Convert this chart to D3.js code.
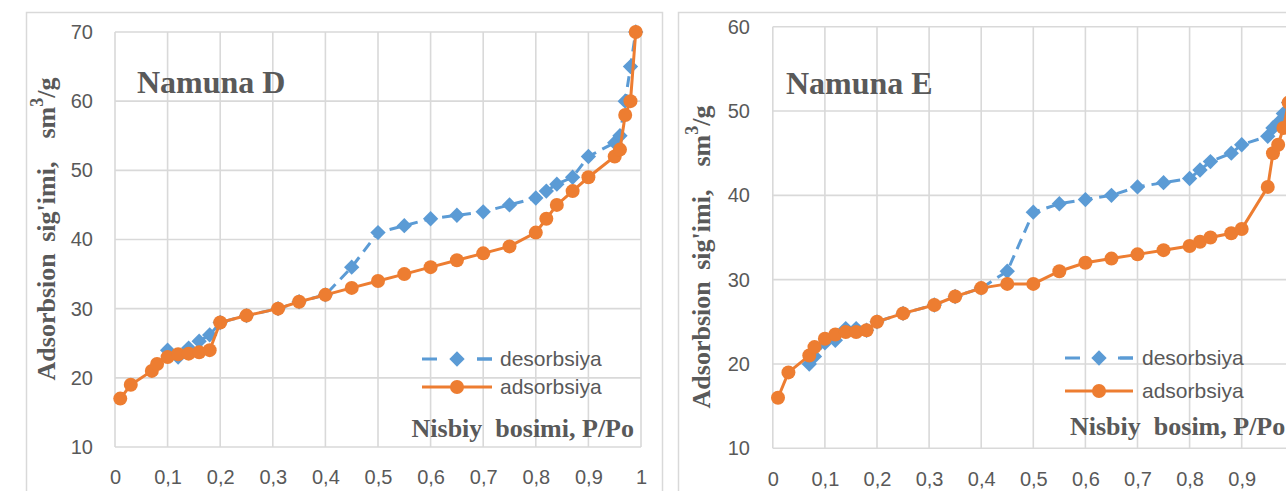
<!DOCTYPE html>
<html>
<head>
<meta charset="utf-8">
<script src="https://cdn.jsdelivr.net/npm/d3@7"></script>
<style>
  body { margin: 0; background: #fff; }
  svg { display: block; }
  text { white-space: pre; }
</style>
</head>
<body>
<svg id="chart" width="1286" height="491"></svg>
<script>
// ---- data ----
const xTickValues = [0, 0.1, 0.2, 0.3, 0.4, 0.5, 0.6, 0.7, 0.8, 0.9, 1];
const xTickLabels = ["0", "0,1", "0,2", "0,3", "0,4", "0,5", "0,6", "0,7", "0,8", "0,9", "1"];

// Namuna D
const pressureAdsD = [0.01, 0.03, 0.07, 0.08, 0.1, 0.12, 0.14, 0.16, 0.18, 0.2, 0.25, 0.31, 0.35, 0.4, 0.45, 0.5, 0.55, 0.6, 0.65, 0.7, 0.75, 0.8, 0.82, 0.84, 0.87, 0.9, 0.95, 0.96, 0.97, 0.98, 0.99];
const volumeAdsD   = [17, 19, 21, 22, 23, 23.4, 23.5, 23.7, 24, 28, 29, 30, 31, 32, 33, 34, 35, 36, 37, 38, 39, 41, 43, 45, 47, 49, 52, 53, 58, 60, 70];
const pressureDesD = [0.1, 0.12, 0.14, 0.16, 0.18, 0.2, 0.25, 0.31, 0.35, 0.4, 0.45, 0.5, 0.55, 0.6, 0.65, 0.7, 0.75, 0.8, 0.82, 0.84, 0.87, 0.9, 0.95, 0.96, 0.97, 0.98, 0.99];
const volumeDesD   = [24, 23, 24.3, 25.3, 26.2, 28, 29, 30, 31, 32, 36, 41, 42, 43, 43.5, 44, 45, 46, 47, 48, 49, 52, 54, 55, 60, 65, 70];

// Namuna E
const pressureAdsE = [0.01, 0.03, 0.07, 0.08, 0.1, 0.12, 0.14, 0.16, 0.18, 0.2, 0.25, 0.31, 0.35, 0.4, 0.45, 0.5, 0.55, 0.6, 0.65, 0.7, 0.75, 0.8, 0.82, 0.84, 0.88, 0.9, 0.95, 0.96, 0.97, 0.98, 0.99];
const volumeAdsE   = [16, 19, 21, 22, 23, 23.5, 23.8, 23.8, 24, 25, 26, 27, 28, 29, 29.5, 29.5, 31, 32, 32.5, 33, 33.5, 34, 34.5, 35, 35.5, 36, 41, 45, 46, 48, 51];
const pressureDesE = [0.07, 0.08, 0.1, 0.12, 0.14, 0.16, 0.18, 0.2, 0.25, 0.31, 0.35, 0.4, 0.45, 0.5, 0.55, 0.6, 0.65, 0.7, 0.75, 0.8, 0.82, 0.84, 0.88, 0.9, 0.95, 0.96, 0.97, 0.98, 0.99];
const volumeDesE   = [20, 20.9, 22.5, 22.8, 24.2, 24.2, 24, 25, 26, 27, 28, 29, 31, 38, 39, 39.5, 40, 41, 41.5, 42, 43, 44, 45, 46, 47, 48, 48.6, 49.7, 51];

const seriesNames = ["desorbsiya", "adsorbsiya"];

const blue = "#5B9BD5";
const orange = "#ED7D31";
const gridColour = "#D9D9D9";
const textColour = "#595959";
const sansFont = "'Liberation Sans', Arial, sans-serif";
const serifFont = "'Liberation Serif', 'Times New Roman', serif";

const svgWidth = 1286;
const svg = d3.select("#chart");

const panels = [
    {
        frame: [26.5, 12.5, 636, 500],
        xRange: [115, 641], yRange: [447, 32], yDomain: [10, 70], yTicks: [10, 20, 30, 40, 50, 60, 70],
        yLabelX: 93, title: "Namuna D", titlePos: [137, 93],
        yTitlePos: [49, 229], xTitle: "Nisbiy  bosimi, P/Po", xTitlePos: [634, 437], xTitleAnchor: "end",
        legend: { x1: 422, x2: 492, textX: 500, rows: [359, 387] },
        des: [pressureDesD, volumeDesD], ads: [pressureAdsD, volumeAdsD]
    },
    {
        frame: [678.5, 12.5, 700, 500],
        xRange: [772.8, 1293.8], yRange: [448.3, 26.7], yDomain: [10, 60], yTicks: [10, 20, 30, 40, 50, 60],
        yLabelX: 750, title: "Namuna E", titlePos: [786, 94],
        yTitlePos: [704, 257], xTitle: "Nisbiy  bosim, P/Po", xTitlePos: [1070, 435], xTitleAnchor: "start",
        legend: { x1: 1065, x2: 1133, textX: 1142, rows: [358, 391] },
        des: [pressureDesE, volumeDesE], ads: [pressureAdsE, volumeAdsE]
    }
];

panels.forEach(drawPanel);

function drawPanel(p) {
    const g = svg.append("g");

    // outer chart frame
    g.append("rect")
        .attr("x", p.frame[0]).attr("y", p.frame[1])
        .attr("width", p.frame[2]).attr("height", p.frame[3])
        .attr("fill", "#fff").attr("stroke", gridColour).attr("stroke-width", 1.5);

    const x = d3.scaleLinear().domain([0, 1]).range(p.xRange);
    const y = d3.scaleLinear().domain(p.yDomain).range(p.yRange);

    // grid
    g.append("g").selectAll("line.v")
        .data(xTickValues)
        .join("line")
        .attr("x1", d => x(d)).attr("x2", d => x(d))
        .attr("y1", y.range()[0]).attr("y2", y.range()[1])
        .attr("stroke", gridColour).attr("stroke-width", 1.6);
    g.append("g").selectAll("line.h")
        .data(p.yTicks)
        .join("line")
        .attr("x1", x.range()[0]).attr("x2", x.range()[1])
        .attr("y1", d => y(d)).attr("y2", d => y(d))
        .attr("stroke", gridColour).attr("stroke-width", 1.6);

    // axes (labels only, Excel style); labels past the window edge are left out
    const visibleTicks = xTickValues.filter(d => x(d) + 8 < svgWidth);
    const xAxis = g.append("g")
        .attr("transform", `translate(0,${y.range()[0] + 20})`)
        .call(d3.axisBottom(x).tickValues(visibleTicks)
            .tickFormat(d => xTickLabels[xTickValues.indexOf(d)]).tickSize(0));
    const yAxis = g.append("g")
        .attr("transform", `translate(${p.yLabelX},0)`)
        .call(d3.axisLeft(y).tickValues(p.yTicks).tickSize(0).tickPadding(0));
    [xAxis, yAxis].forEach(a => {
        a.select(".domain").remove();
        a.selectAll("text").attr("fill", textColour)
            .style("font-family", sansFont).style("font-size", "20px");
    });
    xAxis.selectAll("text").attr("dy", "0.71em");

    // series: desorption first, adsorption on top
    const line = d3.line().x(d => x(d[0])).y(d => y(d[1]));
    const des = d3.zip(p.des[0], p.des[1]);
    const ads = d3.zip(p.ads[0], p.ads[1]);

    g.append("path").datum(des)
        .attr("d", line).attr("fill", "none")
        .attr("stroke", blue).attr("stroke-width", 3).attr("stroke-dasharray", "11,7");
    g.append("g").selectAll("path")
        .data(des)
        .join("path")
        .attr("d", d3.symbol(d3.symbolDiamond2, 150))
        .attr("transform", d => `translate(${x(d[0])},${y(d[1])})`)
        .attr("fill", blue);

    g.append("path").datum(ads)
        .attr("d", line).attr("fill", "none")
        .attr("stroke", orange).attr("stroke-width", 3);
    g.append("g").selectAll("circle")
        .data(ads)
        .join("circle")
        .attr("cx", d => x(d[0])).attr("cy", d => y(d[1])).attr("r", 7)
        .attr("fill", orange);

    // titles
    g.append("text")
        .attr("x", p.titlePos[0]).attr("y", p.titlePos[1])
        .attr("fill", textColour)
        .style("font-family", serifFont).style("font-weight", "bold").style("font-size", "32px")
        .text(p.title);

    const yt = g.append("text")
        .attr("transform", `translate(${p.yTitlePos[0]},${p.yTitlePos[1]}) rotate(-90)`)
        .attr("text-anchor", "middle").attr("dominant-baseline", "middle")
        .attr("fill", textColour)
        .style("font-family", serifFont).style("font-weight", "bold").style("font-size", "26px")
        .style("word-spacing", "5px");
    yt.append("tspan").text("Adsorbsion sig'imi,  sm");
    yt.append("tspan").attr("dy", -10).style("font-size", "18px").text("3");
    yt.append("tspan").attr("dy", 10).text("/g");

    g.append("text")
        .attr("x", p.xTitlePos[0]).attr("y", p.xTitlePos[1])
        .attr("text-anchor", p.xTitleAnchor)
        .attr("fill", textColour)
        .style("font-family", serifFont).style("font-weight", "bold").style("font-size", "26px")
        .text(p.xTitle);

    // legend
    const lg = p.legend;
    const mid = (lg.x1 + lg.x2) / 2;
    lg.rows.forEach((ry, i) => {
        const colour = i === 0 ? blue : orange;
        g.append("line")
            .attr("x1", lg.x1).attr("x2", lg.x2).attr("y1", ry).attr("y2", ry)
            .attr("stroke", colour).attr("stroke-width", 3)
            .attr("stroke-dasharray", i === 0 ? "15,40" : null);
        if (i === 0) {
            g.append("line")
                .attr("x1", lg.x2 - 15).attr("x2", lg.x2).attr("y1", ry).attr("y2", ry)
                .attr("stroke", colour).attr("stroke-width", 3);
            g.append("path").attr("d", d3.symbol(d3.symbolDiamond2, 150))
                .attr("transform", `translate(${mid},${ry})`).attr("fill", colour);
        } else {
            g.append("circle").attr("cx", mid).attr("cy", ry).attr("r", 7).attr("fill", colour);
        }
        g.append("text")
            .attr("x", lg.textX).attr("y", ry).attr("dy", "0.35em")
            .attr("fill", textColour)
            .style("font-family", sansFont).style("font-size", "21px")
            .text(seriesNames[i]);
    });
}
</script>
</body>
</html>
